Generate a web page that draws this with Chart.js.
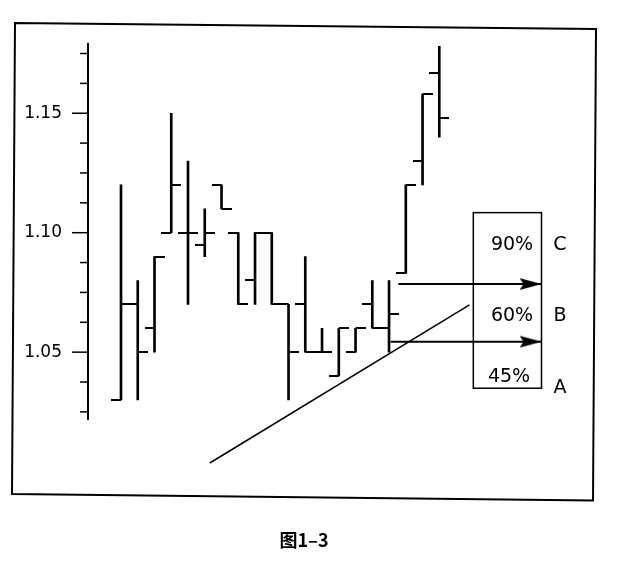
<!DOCTYPE html>
<html>
<head>
<meta charset="utf-8">
<script src="https://cdn.jsdelivr.net/npm/chart.js@4"></script>
<style>
  html, body { margin: 0; padding: 0; background: #fff; }
  canvas { display: block; }
</style>
</head>
<body>
<canvas id="chart" width="619" height="563"></canvas>
<script>
// bars, one per period (open / high / low / close)
const bars = [1, 2, 3, 4, 5, 6, 7, 8, 9, 10, 11, 12, 13, 14, 15, 16, 17, 18, 19, 20];
const highs  = [1.12, 1.08, 1.09, 1.15, 1.13, 1.11, 1.12, 1.10, 1.10, 1.10, 1.07, 1.09, 1.06, 1.06, 1.06, 1.08, 1.08, 1.12, 1.158, 1.178];
const lows   = [1.03, 1.03, 1.05, 1.10, 1.07, 1.09, 1.11, 1.07, 1.07, 1.07, 1.03, 1.05, 1.05, 1.04, 1.05, 1.06, 1.05, 1.083, 1.12, 1.14];
const opens  = [1.03, 1.07, 1.06, 1.10, 1.10, 1.095, 1.12, 1.10, 1.08, 1.10, 1.07, 1.07, 1.05, 1.04, 1.05, 1.07, 1.06, 1.083, 1.13, 1.167];
const closes = [1.07, 1.05, 1.09, 1.12, 1.10, 1.10, 1.11, 1.07, 1.10, 1.07, 1.05, 1.05, 1.05, 1.06, 1.06, 1.06, 1.066, 1.12, 1.158, 1.148];

// y axis ticks
const majorTicks = [1.05, 1.10, 1.15];
const majorLabels = ["1.05", "1.10", "1.15"];
const minorTicks = [1.025, 1.0375, 1.0625, 1.075, 1.0875, 1.1125, 1.125, 1.1375, 1.1625, 1.175];

// trend line (bar index, price)
const trendX = [5.3, 20.8];
const trendY = [1.0036, 1.0698];

// arrows to the retracement box
const arrowStartX = [16.55, 16.1];
const arrowEndX = [25.1, 25.1];
const arrowLevels = [1.0785, 1.0544];

// retracement box
const boxX = [21.03, 25.1];
const boxY = [1.0349, 1.1084];
const pctLabels = ["90%", "60%", "45%"];
const pctLevels = [1.0949, 1.0652, 1.0396];
const sideLabels = ["C", "B", "A"];
const sideLevels = [1.0949, 1.0649, 1.0349];
const pctX = [23.34, 23.34, 23.16];
const sideX = 26.2;

const caption = "图1–3";

function tickImage(side) {
  const c = document.createElement("canvas");
  c.width = 20;
  c.height = 2;
  const g = c.getContext("2d");
  g.fillStyle = "#000";
  g.fillRect(side === "left" ? 0 : 10, 0, 10, 2);
  return c;
}

function arrowImage() {
  const c = document.createElement("canvas");
  c.width = 44;
  c.height = 14;
  const g = c.getContext("2d");
  g.fillStyle = "#000";
  g.beginPath();
  g.moveTo(0, 1);
  g.lineTo(22, 7);
  g.lineTo(0, 13);
  g.lineTo(4, 7);
  g.closePath();
  g.fill();
  return c;
}

const openImg = tickImage("left");
const closeImg = tickImage("right");
const arrowImg = arrowImage();

const decor = {
  id: "decor",
  beforeDraw(chart) {
    const ctx = chart.ctx;
    const x = chart.scales.x;
    const y = chart.scales.y;
    const area = chart.chartArea;
    ctx.save();
    ctx.fillStyle = "#fff";
    ctx.fillRect(0, 0, chart.width, chart.height);

    // outer frame (scan is slightly rotated)
    ctx.strokeStyle = "#000";
    ctx.lineWidth = 2;
    ctx.beginPath();
    ctx.moveTo(15, 23);
    ctx.lineTo(596, 29);
    ctx.lineTo(593, 500.5);
    ctx.lineTo(12, 494);
    ctx.closePath();
    ctx.stroke();

    // y axis
    const ax = area.left - 1;
    ctx.lineWidth = 2;
    ctx.beginPath();
    ctx.moveTo(ax, area.top);
    ctx.lineTo(ax, area.bottom);
    ctx.stroke();
    ctx.lineWidth = 1.5;
    minorTicks.forEach(v => {
      const py = y.getPixelForValue(v);
      ctx.beginPath();
      ctx.moveTo(ax - 8, py);
      ctx.lineTo(ax, py);
      ctx.stroke();
    });
    ctx.fillStyle = "#000";
    ctx.font = '17px "DejaVu Sans"';
    ctx.textAlign = "right";
    ctx.textBaseline = "middle";
    majorTicks.forEach((v, i) => {
      const py = y.getPixelForValue(v);
      ctx.beginPath();
      ctx.moveTo(ax - 16, py);
      ctx.lineTo(ax, py);
      ctx.stroke();
      ctx.fillText(majorLabels[i], ax - 26, py);
    });

    // retracement box
    const bl = x.getPixelForValue(boxX[0]);
    const br = x.getPixelForValue(boxX[1]);
    const bt = y.getPixelForValue(boxY[1]);
    const bb = y.getPixelForValue(boxY[0]);
    ctx.lineWidth = 1.5;
    ctx.strokeRect(bl, bt, br - bl, bb - bt);

    ctx.font = '19px "DejaVu Sans"';
    ctx.textAlign = "center";
    pctLabels.forEach((t, i) => {
      ctx.fillText(t, x.getPixelForValue(pctX[i]), y.getPixelForValue(pctLevels[i]));
    });
    sideLabels.forEach((t, i) => {
      ctx.fillText(t, x.getPixelForValue(sideX), y.getPixelForValue(sideLevels[i]));
    });

    ctx.font = 'bold 18px "Noto Sans CJK SC"';
    ctx.fillText(caption, 304, 540);
    ctx.restore();
  }
};

const datasets = [
  {
    type: "bar",
    data: bars.map((b, i) => ({ x: i, y: [lows[i], highs[i]] })),
    backgroundColor: "#000",
    barThickness: 2,
    borderWidth: 0
  },
  {
    type: "scatter",
    data: bars.map((b, i) => ({ x: i, y: opens[i] })),
    pointStyle: openImg,
    pointRadius: 5
  },
  {
    type: "scatter",
    data: bars.map((b, i) => ({ x: i, y: closes[i] })),
    pointStyle: closeImg,
    pointRadius: 5
  },
  {
    type: "line",
    data: trendX.map((v, i) => ({ x: v, y: trendY[i] })),
    borderColor: "#000",
    borderWidth: 1.5,
    pointRadius: 0,
    clip: false
  }
];

arrowLevels.forEach((lvl, i) => {
  datasets.push({
    type: "line",
    data: [{ x: arrowStartX[i], y: lvl }, { x: arrowEndX[i], y: lvl }],
    borderColor: "#000",
    borderWidth: 2,
    pointStyle: arrowImg,
    pointRadius: [0, 6],
    clip: false
  });
});

new Chart(document.getElementById("chart"), {
  type: "bar",
  data: { datasets },
  options: {
    responsive: false,
    devicePixelRatio: 1,
    animation: false,
    layout: { padding: { left: 89, right: 77.5, top: 43, bottom: 143 } },
    plugins: {
      legend: { display: false },
      tooltip: { enabled: false }
    },
    scales: {
      x: { type: "linear", min: -1.91, max: 25.1, offset: false, display: false },
      y: { type: "linear", min: 1.0216, max: 1.1794, display: false }
    }
  },
  plugins: [decor]
});
</script>
</body>
</html>
